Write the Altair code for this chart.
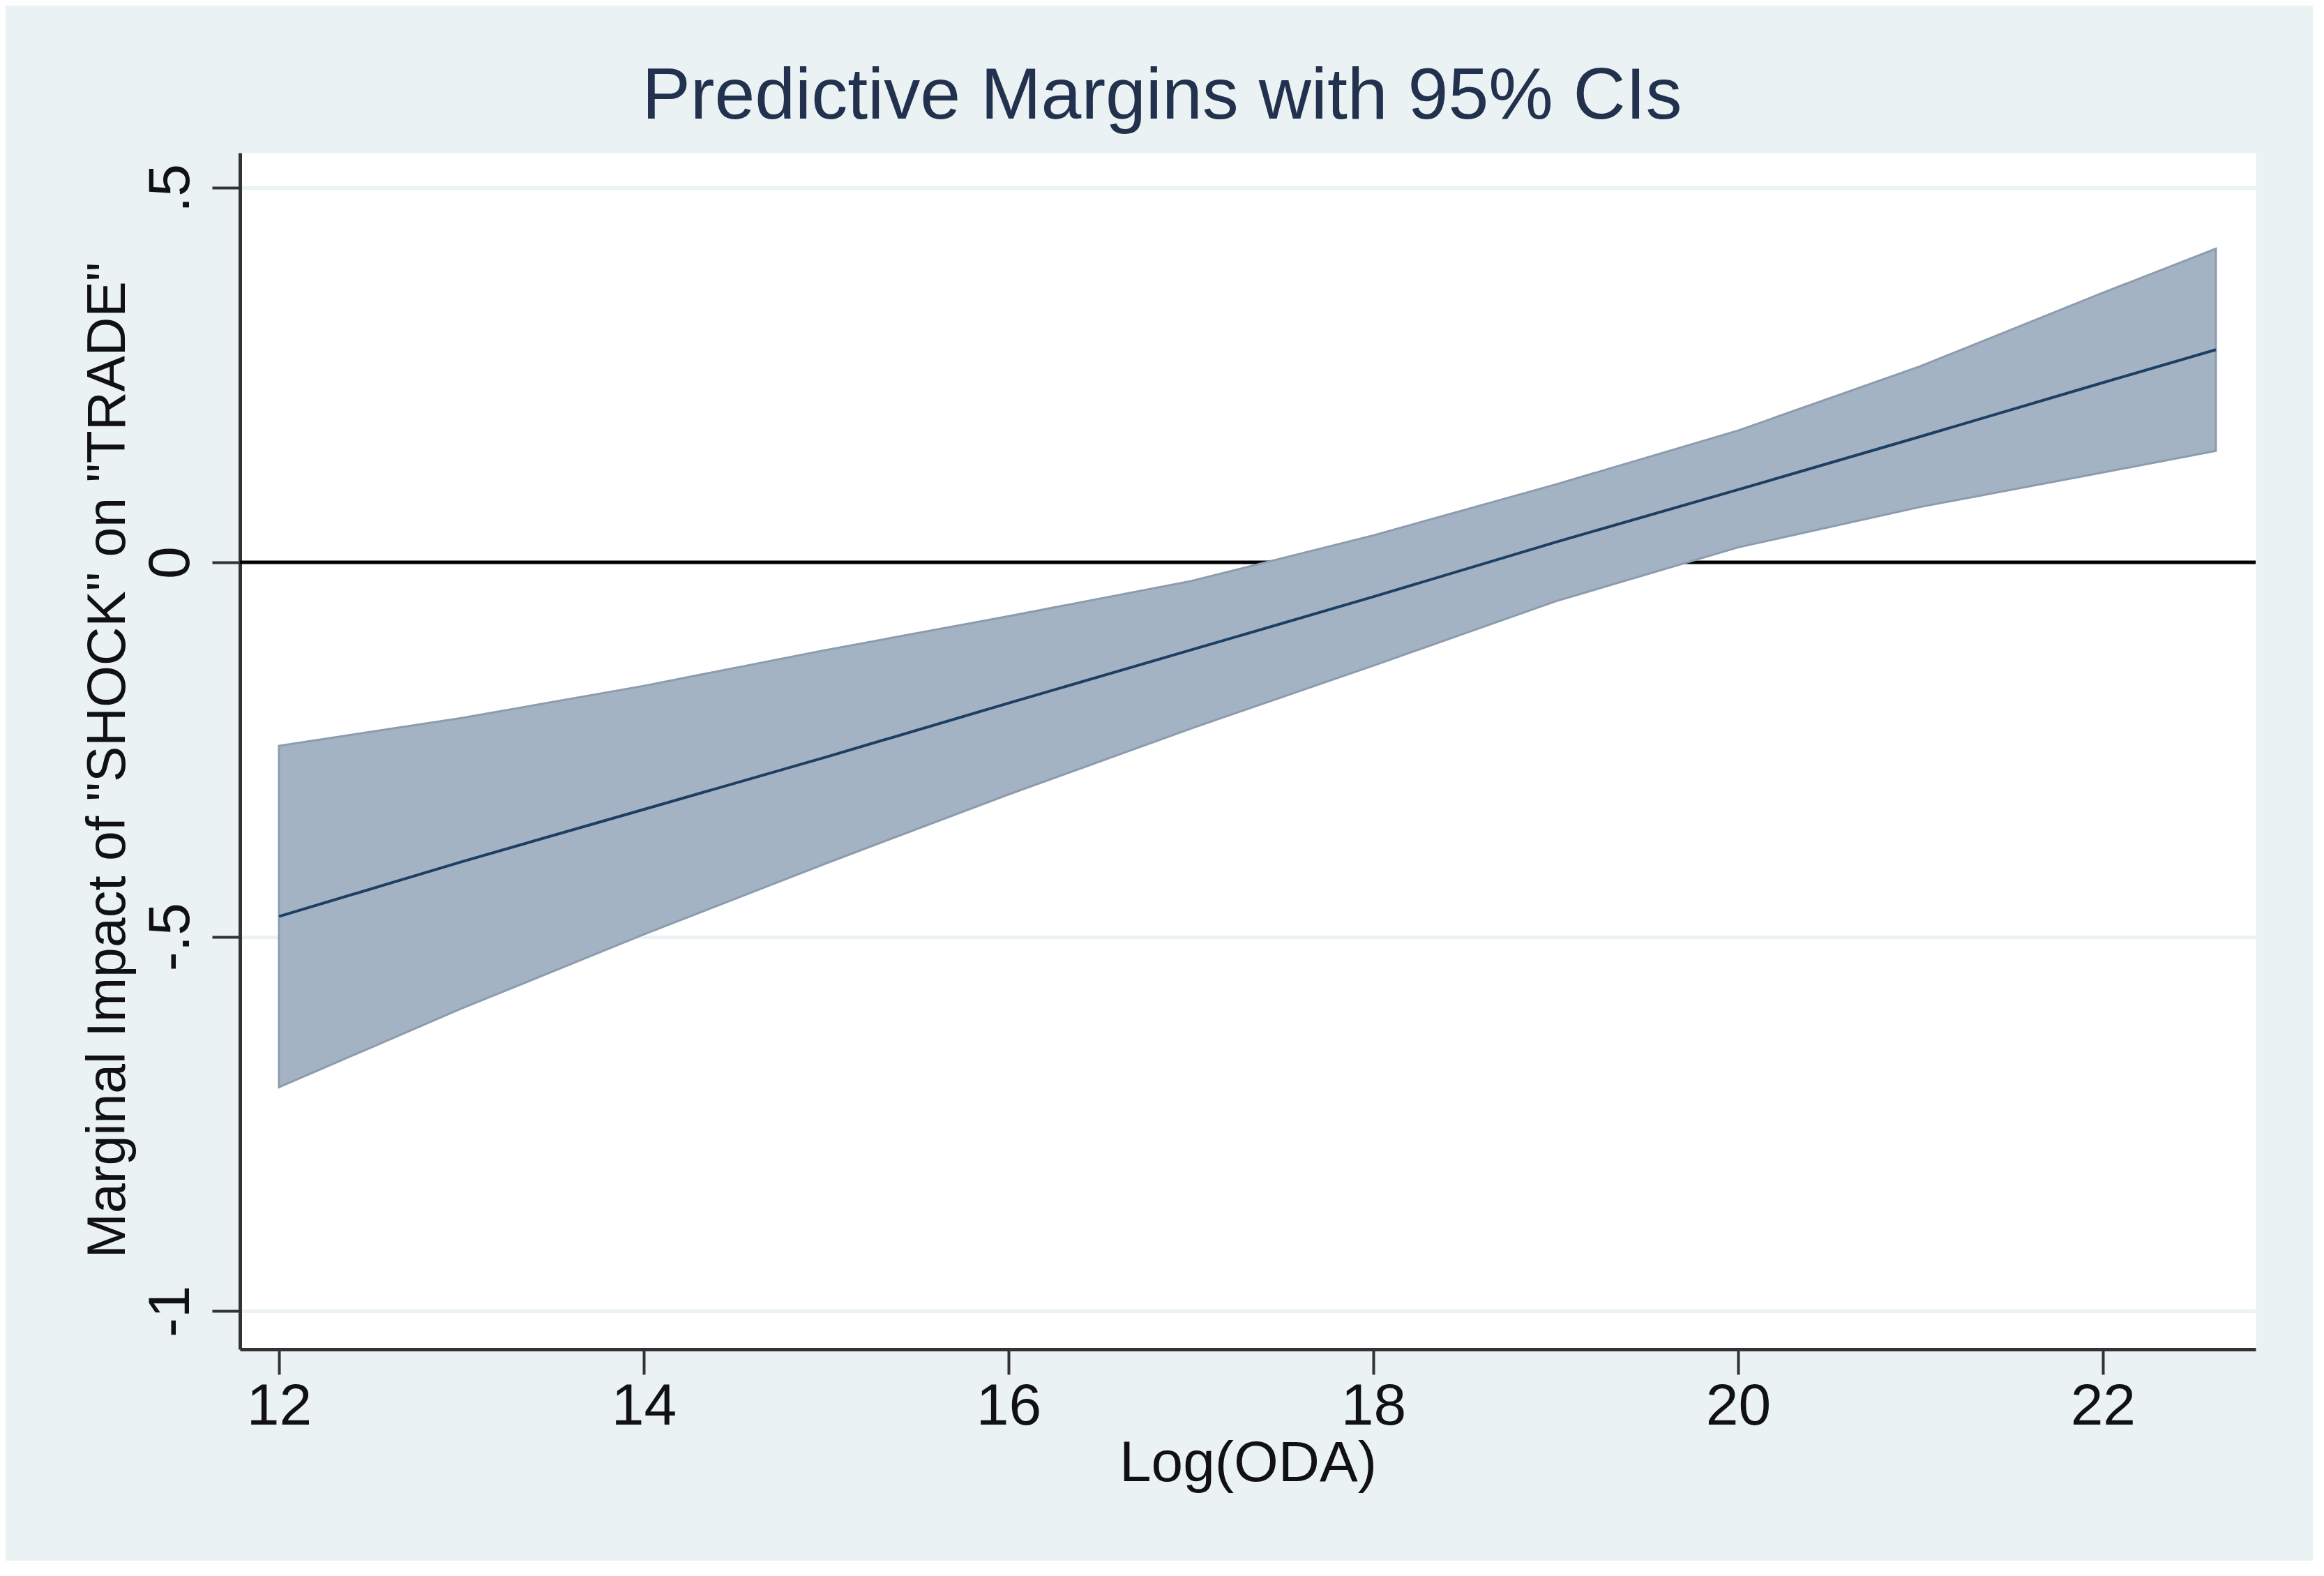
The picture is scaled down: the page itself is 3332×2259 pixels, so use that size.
import altair as alt
import pandas as pd

# ---- data ----
log_oda = [12, 13, 14, 15, 16, 17, 18, 19, 20, 21, 22, 22.62]
margin = [-0.473, -0.400, -0.330, -0.260, -0.188, -0.117, -0.046, 0.027, 0.097, 0.168, 0.240, 0.284]
ci_upper = [-0.245, -0.208, -0.165, -0.117, -0.072, -0.025, 0.036, 0.104, 0.176, 0.262, 0.360, 0.419]
ci_lower = [-0.701, -0.596, -0.497, -0.402, -0.310, -0.222, -0.138, -0.052, 0.020, 0.074, 0.120, 0.149]

x_ticks = [12, 14, 16, 18, 20, 22]
y_tick_values = [-1, -0.5, 0, 0.5]
y_tick_labels = ["-1", "-.5", "0", ".5"]
ref_line = [0]

title_text = "Predictive Margins with 95% CIs"
x_title = "Log(ODA)"
y_title = 'Marginal Impact of "SHOCK" on "TRADE"'

df = pd.DataFrame({"x": log_oda, "m": margin, "lo": ci_lower, "hi": ci_upper})
ref_df = pd.DataFrame({"y": ref_line})

label_expr = " : ".join(
    f"datum.value == {v} ? '{l}'" for v, l in zip(y_tick_values, y_tick_labels)
) + " : ''"

FONT = "Liberation Sans"

x_scale = alt.Scale(domain=[11.786, 22.838], nice=False, zero=False)
y_scale = alt.Scale(domain=[-1.051, 0.547], nice=False, zero=False)

x_axis = alt.Axis(
    values=x_ticks, title=x_title, grid=False, format="d",
    domainColor="#333333", domainWidth=5, tickColor="#333333", tickWidth=4, tickSize=36,
    labelFont=FONT, labelFontSize=84, labelColor="#111111", labelPadding=5,
    titleFont=FONT, titleFontSize=82, titleFontWeight="normal", titleColor="#111111",
    titleBaseline="alphabetic", titleY=188,
)
y_axis = alt.Axis(
    values=y_tick_values, title=y_title, labelExpr=label_expr,
    grid=True, gridColor="#EAF2F3", gridWidth=5,
    domainColor="#333333", domainWidth=5, tickColor="#333333", tickWidth=4, tickSize=40,
    labelFont=FONT, labelFontSize=84, labelColor="#111111", labelAngle=270,
    labelAlign="center", labelBaseline="alphabetic", labelPadding=34,
    titleFont=FONT, titleFontSize=77, titleFontWeight="normal", titleColor="#111111",
    titleAngle=270, titleAlign="center", titleBaseline="alphabetic", titleX=-166, titleY=870,
)

zero = alt.Chart(ref_df).mark_rule(color="#000000", strokeWidth=5).encode(
    y=alt.Y("y:Q", scale=y_scale, axis=y_axis)
)

band = alt.Chart(df).mark_area(
    color="#A3B3C4", stroke="#8C9CAE", strokeWidth=3, opacity=1
).encode(
    x=alt.X("x:Q", scale=x_scale, axis=x_axis),
    y=alt.Y("lo:Q", scale=y_scale),
    y2="hi:Q",
)

line = alt.Chart(df).mark_line(color="#1C3F62", strokeWidth=4).encode(
    x=alt.X("x:Q", scale=x_scale),
    y=alt.Y("m:Q", scale=y_scale),
)

chart = alt.layer(zero, band, line).properties(
    width=2890,
    height=1715,
    padding={"left": 336, "top": 211, "right": 82, "bottom": 303},
    autosize=alt.AutoSizeParams(type="none"),
    background="#EAF2F3",
    title=alt.TitleParams(
        text=title_text, font=FONT, fontSize=104, fontWeight="normal",
        color="#22314D", anchor="middle", frame="group", dx=-123, dy=96,
        baseline="alphabetic", offset=41,
    ),
).configure_view(fill="white", stroke="transparent")

chart.save("out.html", embed_options={"renderer": "svg", "actions": False})
